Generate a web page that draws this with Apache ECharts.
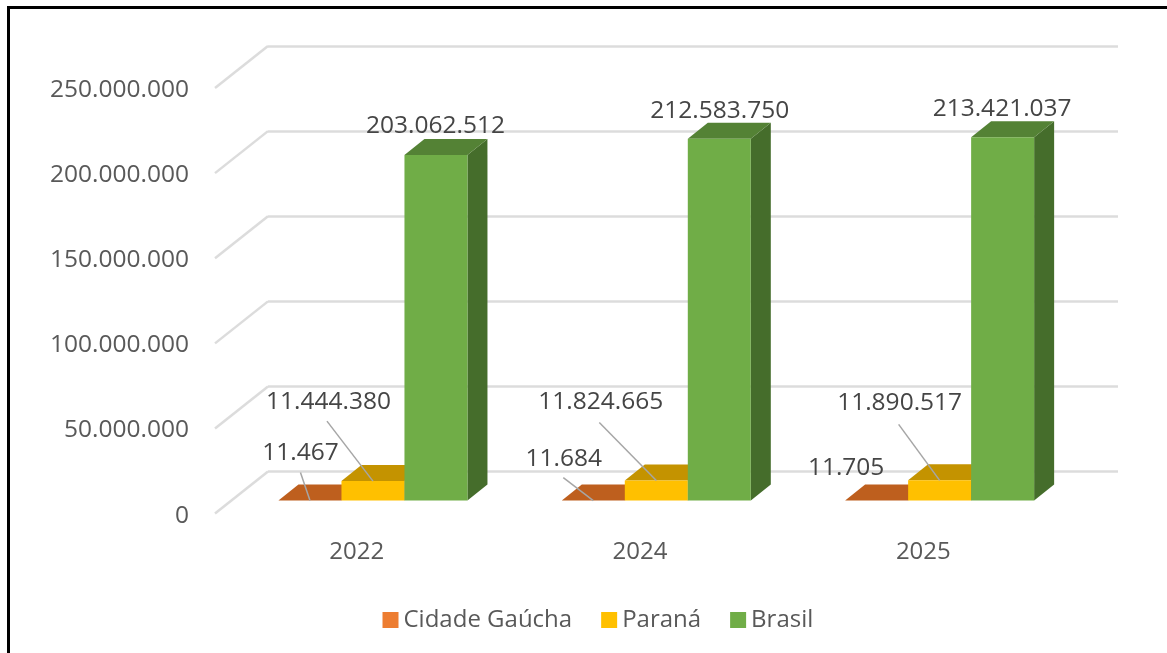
<!DOCTYPE html>
<html>
<head>
<meta charset="utf-8">
<style>
  html, body { margin: 0; padding: 0; background: #fff; }
  #chart { width: 1167px; height: 653px; }
</style>
<script src="https://cdn.jsdelivr.net/npm/echarts@6/dist/echarts.min.js"></script>
</head>
<body>
<div id="chart"></div>
<script>
const categories = ['2022', '2024', '2025'];
const cidadeGaucha = [11467, 11684, 11705];
const parana = [11444380, 11824665, 11890517];
const brasil = [203062512, 212583750, 213421037];
const axisTicks = [0, 50000000, 100000000, 150000000, 200000000, 250000000];

// the 3d look: distance from back wall to the front plane, bar faces
const wall = { x: -53, y: 42 };
const barFront = { x: -36.7, y: 29 };
const barDepth = { x: 20, y: -16 };
const barWidth = 63;

// where each label sits, relative to the top centre of the bar's front face
// text = label centre, line = start of the leader line (none = no leader)
const cidadeLabels = [
  { text: [-9.5, -48], line: [-9.5, -28] },
  { text: [-29.5, -42], line: [-30, -23] },
  { text: [-30.5, -33] }
];
const paranaLabels = [
  { text: [-44.5, -79], line: [-46, -60] },
  { text: [-55.5, -78], line: [-57, -58] },
  { text: [-40, -77], line: [-41, -56] }
];
const brasilLabels = [
  { text: [-0.5, -29] },
  { text: [0.5, -28] },
  { text: [-0.5, -28] }
];

const fontName = '"Open Sans", sans-serif';

function fmt(n) {
  return String(n).replace(/\B(?=(\d{3})+$)/g, '.');
}

function barSeries(name, values, slot, colors, labels) {
  return {
    name: name,
    type: 'custom',
    coordinateSystem: 'cartesian2d',
    xAxisIndex: 0,
    yAxisIndex: 0,
    itemStyle: { color: colors.front },
    data: values.map(function (v, i) { return [categories[i], v]; }),
    renderItem: function (params, api) {
      const top = api.coord([api.value(0), api.value(1)]);
      const base = api.coord([api.value(0), 0]);
      const x0 = top[0] + barFront.x + (slot - 1.5) * barWidth;
      const x1 = x0 + barWidth;
      const yTop = top[1] + barFront.y;
      const yBase = base[1] + barFront.y;
      const dx = barDepth.x;
      const dy = barDepth.y;
      const cx = (x0 + x1) / 2;
      const lab = labels[params.dataIndex];

      const kids = [
        { type: 'polygon', shape: { points: [[x1, yTop], [x1 + dx, yTop + dy], [x1 + dx, yBase + dy], [x1, yBase]] }, style: { fill: colors.side } },
        { type: 'polygon', shape: { points: [[x0, yTop], [x1, yTop], [x1 + dx, yTop + dy], [x0 + dx, yTop + dy]] }, style: { fill: colors.top } },
        { type: 'rect', shape: { x: x0, y: yTop, width: barWidth, height: yBase - yTop }, style: { fill: colors.front } }
      ];
      if (lab.line) {
        kids.push({
          type: 'line',
          shape: { x1: cx + lab.line[0], y1: yTop + lab.line[1], x2: cx, y2: yTop },
          style: { stroke: '#a6a6a6', lineWidth: 1.5 }
        });
      }
      kids.push({
        type: 'text',
        style: {
          x: cx + lab.text[0],
          y: yTop + lab.text[1],
          text: fmt(api.value(1)),
          align: 'center',
          verticalAlign: 'middle',
          fill: '#454545',
          font: '24.5px ' + fontName
        }
      });
      return { type: 'group', children: kids };
    }
  };
}

// short diagonal lines that join the gridlines to the axis labels
const wallLines = {
  type: 'custom',
  coordinateSystem: 'cartesian2d',
  xAxisIndex: 0,
  yAxisIndex: 0,
  silent: true,
  data: axisTicks.map(function (t) { return [categories[0], t]; }),
  renderItem: function (params, api) {
    const p = api.coord([api.value(0), api.value(1)]);
    const x = params.coordSys.x;
    return {
      type: 'line',
      shape: { x1: x, y1: p[1], x2: x + wall.x, y2: p[1] + wall.y },
      style: { stroke: '#dcdcdc', lineWidth: 2.5 }
    };
  }
};

const chart = echarts.init(document.getElementById('chart'), null, { renderer: 'canvas' });

chart.setOption({
  animation: false,
  backgroundColor: '#ffffff',
  legend: {
    data: ['Cidade Gaúcha', 'Paraná', 'Brasil'],
    left: 382.5,
    top: 608,
    padding: 0,
    itemWidth: 16,
    itemHeight: 16,
    itemGap: 29,
    icon: 'rect',
    textStyle: { fontFamily: fontName, fontSize: 24, color: '#595959' }
  },
  grid: [
    // back wall, holds the gridlines and the bars
    { left: 268, top: 46, width: 850, height: 425.6 },
    // front plane, holds only the axis labels (2px lower so the text lines up)
    { left: 268 + wall.x, top: 46 + wall.y + 2, width: 850, height: 425.6 }
  ],
  xAxis: [
    { type: 'category', data: categories, gridIndex: 0, show: false },
    {
      type: 'category',
      data: categories,
      gridIndex: 1,
      axisLine: { show: false },
      axisTick: { show: false },
      axisLabel: { margin: 25, fontFamily: fontName, fontSize: 24, color: '#595959' }
    }
  ],
  yAxis: [
    {
      type: 'value',
      gridIndex: 0,
      min: 0,
      max: 250000000,
      interval: 50000000,
      axisLine: { show: false },
      axisTick: { show: false },
      axisLabel: { show: false },
      splitLine: { lineStyle: { color: '#dcdcdc', width: 2.5 } }
    },
    {
      type: 'value',
      gridIndex: 1,
      min: 0,
      max: 250000000,
      interval: 50000000,
      axisLine: { show: false },
      axisTick: { show: false },
      splitLine: { show: false },
      axisLabel: {
        margin: 26,
        fontFamily: fontName,
        fontSize: 24.5,
        color: '#595959',
        formatter: function (v) { return fmt(v); }
      }
    }
  ],
  graphic: [
    { type: 'rect', shape: { x: 7, y: 6, width: 1160, height: 3 }, style: { fill: '#000' } },
    { type: 'rect', shape: { x: 7, y: 6, width: 3, height: 647 }, style: { fill: '#000' } }
  ],
  series: [
    wallLines,
    barSeries('Cidade Gaúcha', cidadeGaucha, 0, { front: '#ed7d31', top: '#be5f1e', side: '#a3521b' }, cidadeLabels),
    barSeries('Paraná', parana, 1, { front: '#ffc000', top: '#c49300', side: '#a67c00' }, paranaLabels),
    barSeries('Brasil', brasil, 2, { front: '#70ad47', top: '#548235', side: '#456d2b' }, brasilLabels)
  ]
});
</script>
</body>
</html>
